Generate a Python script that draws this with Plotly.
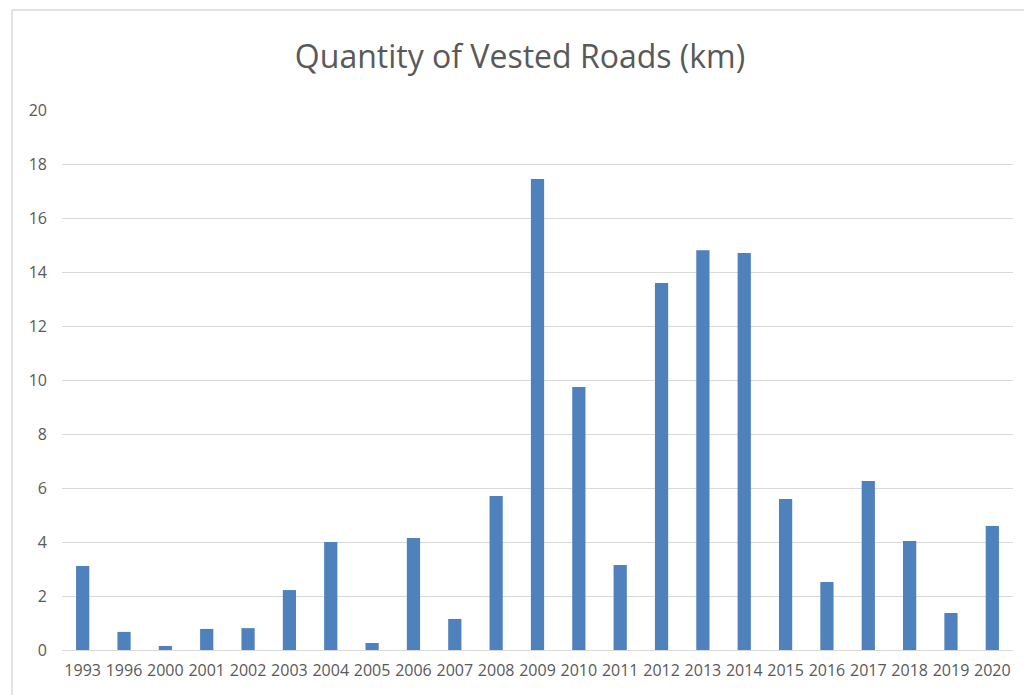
import plotly.graph_objects as go

years = ["1993", "1996", "2000", "2001", "2002", "2003", "2004", "2005", "2006", "2007", "2008",
         "2009", "2010", "2011", "2012", "2013", "2014", "2015", "2016", "2017", "2018", "2019", "2020"]
values = [3.11, 0.67, 0.15, 0.78, 0.81, 2.22, 4.0, 0.26, 4.15, 1.15, 5.70,
          17.44, 9.74, 3.15, 13.59, 14.81, 14.70, 5.59, 2.52, 6.26, 4.04, 1.37, 4.59]
y_ticks = [0, 2, 4, 6, 8, 10, 12, 14, 16, 18, 20]

OFF = 8  # page body margin
W, H = 1024, 687
L, R, T, B = 62 - OFF, 1013 - OFF, 110 - OFF, 650 - OFF

fig = go.Figure(go.Bar(x=years, y=values, marker=dict(color="#4f81bd", line=dict(width=0)), width=0.32))

def px(xp):
    return (xp - OFF - L) / (R - L)

def py(yp):
    return (B - (yp - OFF)) / (B - T)

FONT = "Open Sans, Liberation Sans, sans-serif"

fig.update_layout(
    width=W, height=H,
    margin=dict(l=L, r=W - R, t=T, b=H - B),
    paper_bgcolor="white", plot_bgcolor="white",
    font=dict(family=FONT, color="#595959", size=16),
    title=dict(text="Quantity of Vested Roads (km)", x=0.5, xanchor="center",
               y=1 - (57 - OFF) / H, yanchor="middle",
               font=dict(size=32, color="#595959", family=FONT)),
    showlegend=False,
    xaxis=dict(type="category", showgrid=False, showline=True, linecolor="#d9d9d9", linewidth=1,
               ticks="", ticklabelstandoff=6, tickfont=dict(size=16, color="#595959")),
    yaxis=dict(range=[0, 20], tickvals=y_ticks, showgrid=True, gridcolor="#d9d9d9", gridwidth=1,
               zeroline=False, showline=False, ticks="", ticklabelstandoff=14,
               tickfont=dict(size=16, color="#595959")),
    shapes=[dict(type="rect", xref="paper", yref="paper",
                 x0=px(12), x1=px(1045), y0=py(710), y1=py(10),
                 line=dict(color="#d9d9d9", width=1.5), fillcolor="rgba(0,0,0,0)", layer="below")],
)

fig.write_html("out.html")
